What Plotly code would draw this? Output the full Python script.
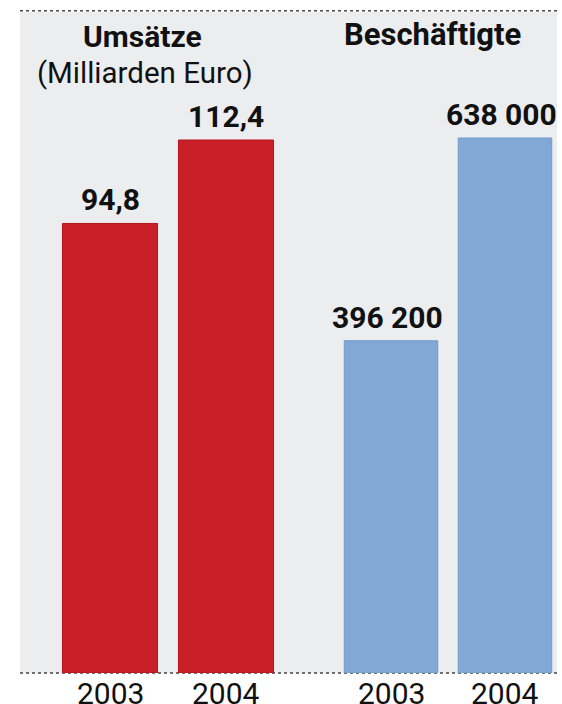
import plotly.graph_objects as go

# Data
years = ["2003", "2004"]
umsatz = [94.8, 112.4]          # Milliarden Euro
beschaeftigte = [396200, 638000]

title_umsatz = "Umsätze"
subtitle_umsatz = "(Milliarden Euro)"
title_besch = "Beschäftigte"

W, H = 562, 704
M_TOP, M_BOT = 12, 31
plot_h = H - M_TOP - M_BOT

RED = "#C81F28"
BLUE = "#82A9D6"
PANEL = "#ECEDEF"
FONT = "Roboto, DejaVu Sans Condensed, sans-serif"
INK = "#111111"


def de_num(v, decimals=0):
    if decimals:
        return f"{v:.{decimals}f}".replace(".", ",")
    return f"{int(v):,}".replace(",", " ")


fig = go.Figure()
fig.add_trace(go.Bar(x=years, y=umsatz, xaxis="x", yaxis="y",
                     marker=dict(color=RED, line=dict(width=1, color="#B3161F")),
                     showlegend=False, hoverinfo="skip"))
fig.add_trace(go.Bar(x=years, y=beschaeftigte, xaxis="x2", yaxis="y2",
                     marker=dict(color=BLUE, line=dict(width=1, color="#7199CB")),
                     showlegend=False, hoverinfo="skip"))

# each group gets its own vertical scale on a shared baseline
red_max = 112.4 * plot_h / (673 - 140)
blue_max = 638000 * plot_h / (673 - 138)

annotations = []
for i, v in enumerate(umsatz):
    annotations.append(dict(x=i, y=v, xref="x", yref="y", text=f"<b>{de_num(v, 1)}</b>",
                            showarrow=False, yanchor="bottom", yshift=4,
                            font=dict(family=FONT, size=30, color=INK)))
for i, v in enumerate(beschaeftigte):
    annotations.append(dict(x=i, y=v, xref="x2", yref="y2", text=f"<b>{de_num(v)}</b>",
                            showarrow=False, yanchor="bottom", yshift=4, xshift=-4,
                            font=dict(family=FONT, size=30, color=INK)))
for ax in ("x", "x2"):
    for i, yr in enumerate(years):
        annotations.append(dict(x=i, y=0, xref=ax, yref="paper", text=yr,
                                showarrow=False, yanchor="top", yshift=-1,
                                font=dict(family=FONT, size=30, color=INK)))


def head(text, xc, yc, size, bold=True):
    return dict(x=xc / W, y=1 - (yc - M_TOP) / plot_h, xref="paper", yref="paper",
                text=f"<b>{text}</b>" if bold else text, showarrow=False,
                xanchor="center", yanchor="middle",
                font=dict(family=FONT, size=size, color=INK))


annotations += [
    head(title_umsatz, 142, 36, 30),
    head(subtitle_umsatz, 145, 73, 29.5, bold=False),
    head(title_besch, 432, 34, 31),
]

shapes = [
    dict(type="rect", xref="paper", yref="paper", x0=20 / W, x1=557 / W,
         y0=0, y1=1, fillcolor=PANEL, line=dict(width=0), layer="below"),
    dict(type="line", xref="paper", yref="paper", x0=20 / W, x1=560 / W,
         y0=1.002, y1=1.002, line=dict(color="#444", width=1.5, dash="dot")),
    dict(type="line", xref="paper", yref="paper", x0=20 / W, x1=560 / W,
         y0=0, y1=0, line=dict(color="#444", width=1.5, dash="dot"), layer="below"),
]

axis_off = dict(showticklabels=False, showgrid=False, zeroline=False,
                showline=False, ticks="", range=[-0.5, 1.5])

fig.update_layout(
    width=W, height=H,
    margin=dict(l=0, r=0, t=M_TOP, b=M_BOT),
    paper_bgcolor="white", plot_bgcolor="rgba(0,0,0,0)",
    bargap=0.18,
    xaxis=dict(type="category", domain=[52 / W, 284 / W], anchor="y", **axis_off),
    xaxis2=dict(type="category", domain=[334 / W, 562 / W], anchor="y2", **axis_off),
    yaxis=dict(range=[0, red_max], domain=[0, 1], anchor="x", visible=False),
    yaxis2=dict(range=[0, blue_max], domain=[0, 1], anchor="x2", visible=False),
    annotations=annotations, shapes=shapes,
)

fig.write_html("out.html")
